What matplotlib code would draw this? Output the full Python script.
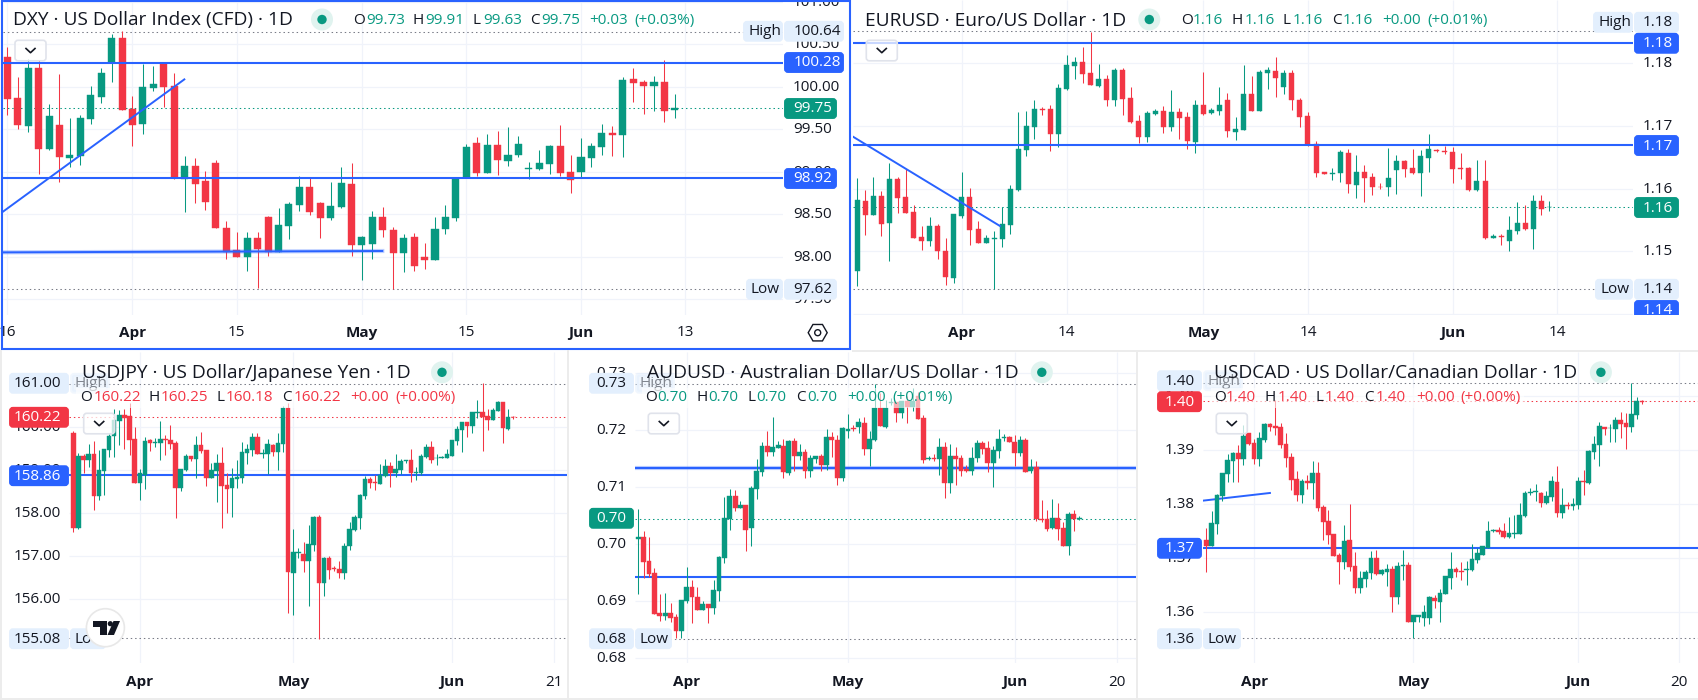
import matplotlib
matplotlib.use('Agg')
import matplotlib.pyplot as plt
from matplotlib.patches import Rectangle, FancyBboxPatch, Circle, Polygon, RegularPolygon

W, H = 1698, 700
GREEN = '#089981'
RED = '#f23645'
BLUE = '#2962ff'
TEXT = '#131722'
GRID = '#f0f3fa'
DOTS = '#787b86'
TAG_BG = '#e3effd'
EDGE = '#ececec'
LABEL_SIZE = 11
TITLE_SIZE = 13.75

# daily bars as (open, high, low, close)
dxy_bars = [
    (100.35, 100.47, 99.67, 99.85), (99.87, 100.11, 99.50, 99.55), (99.54, 100.32, 99.47, 100.22),
    (100.22, 100.31, 98.97, 99.27), (99.27, 99.80, 99.25, 99.65), (99.55, 100.15, 98.88, 99.17),
    (99.16, 99.63, 99.05, 99.20), (99.18, 99.67, 99.08, 99.63), (99.62, 100.01, 99.56, 99.90),
    (99.88, 100.22, 99.81, 100.16), (100.29, 100.62, 100.05, 100.57), (100.57, 100.65, 99.73, 99.73),
    (99.74, 99.89, 99.30, 99.55), (99.56, 100.27, 99.44, 100.00), (99.98, 100.24, 99.95, 100.03),
    (100.27, 100.29, 99.76, 100.00), (100.01, 100.16, 98.91, 98.93), (98.91, 99.18, 98.53, 99.07),
    (99.07, 99.16, 98.63, 98.85), (98.89, 99.01, 98.55, 98.64), (99.10, 99.14, 98.34, 98.34),
    (98.34, 98.42, 97.97, 98.05), (98.08, 98.29, 98.00, 98.00), (98.00, 98.29, 97.83, 98.22),
    (98.22, 98.29, 97.63, 98.09), (98.47, 98.48, 98.01, 98.05), (98.05, 98.57, 98.05, 98.37),
    (98.36, 98.64, 98.21, 98.62), (98.61, 98.95, 98.54, 98.82), (98.82, 98.93, 98.49, 98.53),
    (98.63, 98.64, 98.22, 98.45), (98.45, 98.88, 98.43, 98.60), (98.58, 99.05, 98.57, 98.87),
    (98.85, 99.10, 98.01, 98.14), (98.14, 98.24, 97.73, 98.23), (98.15, 98.54, 97.97, 98.47),
    (98.47, 98.58, 98.23, 98.31), (98.31, 98.35, 97.62, 98.04), (98.04, 98.27, 97.82, 98.22),
    (98.23, 98.28, 97.83, 97.89), (98.00, 98.16, 97.85, 97.96), (97.96, 98.47, 97.96, 98.33),
    (98.33, 98.61, 98.27, 98.47), (98.45, 98.93, 98.42, 98.93), (98.93, 99.33, 98.93, 99.29),
    (99.34, 99.41, 98.95, 98.98), (98.98, 99.44, 98.98, 99.31), (99.31, 99.48, 98.96, 99.14),
    (99.13, 99.53, 99.07, 99.20), (99.20, 99.42, 99.17, 99.33), (99.03, 99.11, 98.91, 99.04),
    (99.03, 99.25, 99.02, 99.10), (99.09, 99.31, 98.97, 99.30), (99.30, 99.55, 98.95, 98.98),
    (99.00, 99.20, 98.75, 98.90), (99.00, 99.40, 98.93, 99.17), (99.16, 99.34, 99.05, 99.30),
    (99.29, 99.56, 99.20, 99.45), (99.45, 99.54, 99.18, 99.43), (99.43, 100.11, 99.17, 100.08),
    (100.09, 100.22, 99.82, 100.04), (100.05, 100.08, 99.68, 100.01), (100.01, 100.13, 99.71, 100.05),
    (100.05, 100.31, 99.58, 99.71), (99.73, 99.91, 99.63, 99.75),
]
dxy_ticks = [101.0, 100.5, 100.0, 99.5, 99.0, 98.5, 98.0, 97.5]
dxy_days = [0, 12, 22, 34, 44, 55, 65]
dxy_day_labels = ['16', 'Apr', '15', 'May', '15', 'Jun', '13']
dxy_levels = [100.28, 98.92]
dxy_trend_x = [-0.415, 16.97]
dxy_trend_y = [98.53, 100.086]
dxy_support_x = [-0.415, 35.95]
dxy_support_y = [98.051, 98.067]

eur_bars = [
    (1.1469, 1.1617, 1.1445, 1.1582), (1.1580, 1.1598, 1.1526, 1.1558), (1.1558, 1.1619, 1.1558, 1.1588),
    (1.1588, 1.1596, 1.1525, 1.1544), (1.1545, 1.1641, 1.1485, 1.1615), (1.1615, 1.1619, 1.1561, 1.1585),
    (1.1587, 1.1631, 1.1561, 1.1561), (1.1563, 1.1574, 1.1521, 1.1521), (1.1523, 1.1541, 1.1502, 1.1517),
    (1.1517, 1.1555, 1.1509, 1.1541), (1.1541, 1.1544, 1.1488, 1.1501), (1.1501, 1.1521, 1.1447, 1.1459),
    (1.1458, 1.1560, 1.1450, 1.1560), (1.1556, 1.1627, 1.1553, 1.1587), (1.1587, 1.1601, 1.1510, 1.1534),
    (1.1536, 1.1548, 1.1513, 1.1513), (1.1513, 1.1526, 1.1513, 1.1521), (1.1520, 1.1533, 1.1440, 1.1521),
    (1.1520, 1.1571, 1.1507, 1.1544), (1.1542, 1.1606, 1.1528, 1.1599), (1.1598, 1.1722, 1.1596, 1.1663),
    (1.1662, 1.1724, 1.1652, 1.1700), (1.1698, 1.1741, 1.1679, 1.1727), (1.1727, 1.1730, 1.1717, 1.1725),
    (1.1727, 1.1733, 1.1660, 1.1687), (1.1687, 1.1767, 1.1666, 1.1760), (1.1759, 1.1813, 1.1757, 1.1797),
    (1.1795, 1.1810, 1.1775, 1.1802), (1.1802, 1.1826, 1.1768, 1.1783), (1.1784, 1.1850, 1.1765, 1.1765),
    (1.1764, 1.1799, 1.1762, 1.1775), (1.1775, 1.1781, 1.1732, 1.1741), (1.1741, 1.1792, 1.1732, 1.1789),
    (1.1789, 1.1792, 1.1717, 1.1743), (1.1744, 1.1762, 1.1705, 1.1706), (1.1708, 1.1717, 1.1673, 1.1682),
    (1.1682, 1.1724, 1.1674, 1.1721), (1.1719, 1.1727, 1.1717, 1.1724), (1.1724, 1.1732, 1.1689, 1.1698),
    (1.1698, 1.1757, 1.1692, 1.1722), (1.1722, 1.1729, 1.1679, 1.1713), (1.1714, 1.1722, 1.1663, 1.1676),
    (1.1674, 1.1741, 1.1657, 1.1733), (1.1733, 1.1786, 1.1717, 1.1719), (1.1721, 1.1729, 1.1719, 1.1725),
    (1.1724, 1.1762, 1.1717, 1.1733), (1.1741, 1.1752, 1.1682, 1.1692), (1.1690, 1.1714, 1.1678, 1.1695),
    (1.1693, 1.1797, 1.1693, 1.1751), (1.1751, 1.1779, 1.1724, 1.1724), (1.1724, 1.1789, 1.1724, 1.1786),
    (1.1784, 1.1794, 1.1759, 1.1789), (1.1787, 1.1810, 1.1746, 1.1776), (1.1762, 1.1789, 1.1751, 1.1784),
    (1.1784, 1.1789, 1.1725, 1.1741), (1.1741, 1.1744, 1.1698, 1.1714), (1.1716, 1.1722, 1.1668, 1.1670),
    (1.1671, 1.1676, 1.1619, 1.1625), (1.1626, 1.1627, 1.1623, 1.1624), (1.1623, 1.1633, 1.1614, 1.1625),
    (1.1625, 1.1662, 1.1611, 1.1658), (1.1657, 1.1663, 1.1593, 1.1607), (1.1606, 1.1654, 1.1585, 1.1627),
    (1.1627, 1.1638, 1.1579, 1.1617), (1.1619, 1.1625, 1.1590, 1.1603), (1.1603, 1.1609, 1.1599, 1.1602),
    (1.1603, 1.1665, 1.1588, 1.1617), (1.1630, 1.1654, 1.1592, 1.1644), (1.1644, 1.1646, 1.1619, 1.1631),
    (1.1633, 1.1663, 1.1623, 1.1625), (1.1625, 1.1662, 1.1588, 1.1652), (1.1649, 1.1687, 1.1627, 1.1663),
    (1.1662, 1.1663, 1.1658, 1.1660), (1.1660, 1.1668, 1.1655, 1.1658), (1.1658, 1.1666, 1.1609, 1.1631),
    (1.1633, 1.1657, 1.1615, 1.1631), (1.1633, 1.1635, 1.1596, 1.1598), (1.1598, 1.1646, 1.1596, 1.1612),
    (1.1612, 1.1646, 1.1520, 1.1521), (1.1522, 1.1528, 1.1522, 1.1524), (1.1525, 1.1528, 1.1510, 1.1523),
    (1.1517, 1.1556, 1.1501, 1.1534), (1.1533, 1.1579, 1.1528, 1.1545), (1.1545, 1.1574, 1.1534, 1.1536),
    (1.1536, 1.1590, 1.1504, 1.1580), (1.1580, 1.1590, 1.1558, 1.1568), (1.1570, 1.1580, 1.1564, 1.1571),
]
eur_ticks = [1.18, 1.17, 1.16, 1.15, 1.14]
eur_days = [13, 26, 43, 56, 74, 87]
eur_day_labels = ['Apr', '14', 'May', '14', 'Jun', '14']
eur_levels = [1.1832, 1.16696]
eur_trend_x = [-0.534, 17.73]
eur_trend_y = [1.16828, 1.15405]

jpy_bars = [
    (159.85, 159.91, 157.55, 157.64), (157.64, 159.38, 157.62, 159.32), (159.32, 159.36, 158.92, 159.22),
    (159.22, 159.60, 159.06, 159.36), (159.36, 159.67, 158.06, 158.39), (158.39, 159.46, 158.29, 158.99),
    (158.97, 159.48, 158.41, 159.48), (159.46, 159.84, 159.29, 159.78), (159.78, 160.40, 159.29, 160.16),
    (160.13, 160.39, 159.57, 160.27), (160.27, 160.41, 159.48, 160.20), (160.25, 160.55, 159.34, 159.69),
    (159.71, 159.99, 158.69, 158.69), (158.69, 159.02, 158.29, 158.92), (158.88, 159.76, 158.55, 159.67),
    (159.69, 159.71, 159.43, 159.62), (159.62, 159.74, 159.53, 159.64), (159.62, 160.13, 159.22, 159.71),
    (159.71, 159.81, 159.34, 159.69), (159.69, 160.04, 159.48, 159.60), (159.62, 159.67, 157.88, 158.57),
    (158.57, 159.02, 158.50, 159.02), (158.99, 159.36, 158.97, 159.32), (159.32, 159.32, 159.20, 159.25),
    (159.25, 159.78, 158.81, 159.57), (159.57, 159.88, 159.39, 159.43), (159.46, 159.46, 158.62, 158.81),
    (158.81, 159.16, 158.81, 158.99), (158.97, 159.36, 158.25, 159.16), (159.16, 159.53, 157.64, 158.62),
    (158.64, 158.92, 157.99, 158.55), (158.57, 159.04, 157.90, 158.81), (158.78, 159.22, 158.57, 158.83),
    (158.81, 159.64, 158.69, 159.41), (159.39, 159.60, 159.13, 159.48), (159.46, 159.85, 159.32, 159.76),
    (159.76, 159.85, 159.36, 159.36), (159.36, 159.48, 159.27, 159.39), (159.36, 159.71, 158.90, 159.60),
    (159.57, 159.60, 159.32, 159.41), (159.41, 159.85, 158.99, 159.62), (159.60, 160.48, 159.41, 160.43),
    (160.43, 160.55, 155.67, 156.62), (156.60, 157.62, 155.62, 157.09), (157.06, 157.18, 156.95, 157.09),
    (157.04, 157.32, 156.62, 156.88), (156.88, 157.71, 155.83, 157.27), (157.25, 157.92, 157.11, 157.90),
    (157.90, 157.95, 155.07, 156.36), (156.36, 156.97, 156.06, 156.95), (156.95, 156.99, 156.46, 156.67),
    (156.72, 156.76, 156.64, 156.70), (156.69, 156.88, 156.48, 156.60), (156.60, 157.29, 156.46, 157.22),
    (157.22, 157.78, 157.13, 157.62), (157.60, 157.95, 157.57, 157.90), (157.88, 158.43, 157.62, 158.41),
    (158.39, 158.85, 158.32, 158.78), (158.78, 158.83, 158.57, 158.69), (158.71, 158.88, 158.53, 158.69),
    (158.67, 159.13, 158.67, 158.88), (158.85, 159.25, 158.83, 159.09), (159.09, 159.18, 158.60, 158.92),
    (158.92, 159.36, 158.83, 159.02), (158.99, 159.25, 158.90, 159.20), (159.20, 159.22, 159.16, 159.22),
    (159.22, 159.48, 158.71, 158.92), (158.92, 159.06, 158.76, 158.95), (158.92, 159.36, 158.88, 159.32),
    (159.29, 159.60, 159.27, 159.53), (159.53, 159.67, 159.16, 159.22), (159.26, 159.36, 159.11, 159.27),
    (159.28, 159.32, 159.26, 159.29), (159.27, 159.48, 159.27, 159.36), (159.32, 159.69, 159.32, 159.69),
    (159.67, 160.02, 159.57, 159.95), (159.92, 160.11, 159.41, 160.11), (160.11, 160.11, 159.76, 160.02),
    (160.02, 160.34, 159.85, 160.34), (160.32, 160.62, 160.20, 160.34), (160.34, 161.01, 159.43, 160.22),
    (160.25, 160.41, 159.92, 160.16), (160.16, 160.43, 160.16, 160.39), (160.36, 160.60, 160.36, 160.57),
    (160.57, 160.57, 159.62, 159.97), (159.95, 160.41, 159.92, 160.22), (160.223, 160.25, 160.18, 160.219),
]
jpy_ticks = [160.0, 159.0, 158.0, 157.0, 156.0]
jpy_days = [13, 43, 74, 94]
jpy_day_labels = ['Apr', 'May', 'Jun', '21']
jpy_levels = [158.876]

aud_bars = [
    (.7008, .7061, .6912, .7012), (.7012, .7022, .6940, .6968), (.6970, .7012, .6942, .6947),
    (.6949, .6957, .6877, .6877), (.6878, .6912, .6864, .6873), (.6873, .6913, .6866, .6878),
    (.6878, .6896, .6863, .6870), (.6871, .6877, .6835, .6847), (.6847, .6901, .6835, .6901),
    (.6899, .6959, .6896, .6924), (.6924, .6936, .6861, .6906), (.6906, .6924, .6884, .6884),
    (.6884, .6899, .6884, .6894), (.6894, .6894, .6861, .6887), (.6887, .6936, .6877, .6919),
    (.6917, .6978, .6899, .6977), (.6975, .7082, .6966, .7045), (.7043, .7096, .7024, .7084),
    (.7084, .7094, .7057, .7063), (.7063, .7075, .7063, .7068), (.7068, .7068, .6987, .7024),
    (.7027, .7101, .6996, .7098), (.7096, .7149, .7078, .7127), (.7126, .7178, .7119, .7171),
    (.7171, .7198, .7154, .7161), (.7161, .7222, .7154, .7170), (.7168, .7180, .7168, .7173),
    (.7171, .7184, .7115, .7126), (.7124, .7182, .7120, .7180), (.7180, .7185, .7127, .7154),
    (.7154, .7175, .7147, .7161), (.7161, .7166, .7115, .7127), (.7127, .7156, .7117, .7150),
    (.7149, .7154, .7142, .7154), (.7154, .7157, .7127, .7138), (.7138, .7201, .7129, .7187),
    (.7187, .7196, .7152, .7182), (.7182, .7191, .7103, .7115), (.7115, .7205, .7110, .7203),
    (.7198, .7227, .7185, .7201), (.7203, .7208, .7198, .7201), (.7205, .7220, .7194, .7213),
    (.7212, .7222, .7156, .7166), (.7166, .7198, .7136, .7184), (.7182, .7281, .7180, .7238),
    (.7238, .7264, .7206, .7206), (.7205, .7252, .7203, .7238), (.7247, .7256, .7243, .7249),
    (.7249, .7249, .7213, .7229), (.7229, .7250, .7220, .7250), (.7250, .7259, .7212, .7240),
    (.7240, .7273, .7233, .7250), (.7259, .7266, .7219, .7219), (.7220, .7226, .7142, .7147),
    (.7149, .7154, .7147, .7150), (.7150, .7157, .7145, .7149), (.7149, .7185, .7120, .7170),
    (.7170, .7178, .7080, .7106), (.7106, .7175, .7089, .7154), (.7154, .7170, .7103, .7149),
    (.7150, .7156, .7119, .7127), (.7131, .7138, .7126, .7127), (.7127, .7170, .7120, .7150),
    (.7150, .7182, .7143, .7177), (.7177, .7180, .7157, .7166), (.7168, .7180, .7126, .7142),
    (.7142, .7171, .7099, .7164), (.7163, .7201, .7150, .7184), (.7185, .7192, .7180, .7187),
    (.7187, .7189, .7178, .7178), (.7178, .7191, .7136, .7159), (.7159, .7189, .7154, .7182),
    (.7182, .7185, .7126, .7126), (.7127, .7149, .7124, .7135), (.7135, .7145, .7040, .7043),
    (.7043, .7077, .7038, .7042), (.7043, .7059, .7022, .7026), (.7027, .7078, .7026, .7045),
    (.7045, .7071, .7006, .7026), (.7027, .7038, .6996, .6996), (.6996, .7056, .6980, .7052),
    (.7052, .7059, .7022, .7043), (.7044, .7049, .7042, .7045),
]
aud_ticks = [.73, .72, .71, .70, .69, .68]
aud_days = [9, 39, 70, 89]
aud_day_labels = ['Apr', 'May', 'Jun', '20']
aud_levels = [.7132, .69415]

cad_bars = [
    (1.3733, 1.3755, 1.3673, 1.3722), (1.3722, 1.3786, 1.3722, 1.3764), (1.3762, 1.3818, 1.3744, 1.3816),
    (1.3814, 1.3857, 1.3805, 1.3857), (1.3855, 1.3892, 1.3840, 1.3881), (1.3879, 1.3896, 1.3840, 1.3894),
    (1.3894, 1.3909, 1.3840, 1.3883), (1.3883, 1.3946, 1.3872, 1.3925), (1.3931, 1.3931, 1.3909, 1.3911),
    (1.3912, 1.3920, 1.3873, 1.3883), (1.3883, 1.3933, 1.3870, 1.3922), (1.3918, 1.3949, 1.3914, 1.3948),
    (1.3948, 1.3949, 1.3935, 1.3942), (1.3944, 1.3992, 1.3927, 1.3940), (1.3942, 1.3949, 1.3903, 1.3909),
    (1.3911, 1.3931, 1.3868, 1.3885), (1.3886, 1.3894, 1.3825, 1.3844), (1.3846, 1.3860, 1.3805, 1.3816),
    (1.3816, 1.3846, 1.3801, 1.3842), (1.3842, 1.3853, 1.3827, 1.3838), (1.3838, 1.3879, 1.3809, 1.3857),
    (1.3857, 1.3877, 1.3786, 1.3792), (1.3794, 1.3798, 1.3733, 1.3766), (1.3768, 1.3788, 1.3725, 1.3742),
    (1.3744, 1.3744, 1.3703, 1.3703), (1.3705, 1.3709, 1.3651, 1.3692), (1.3692, 1.3760, 1.3679, 1.3731),
    (1.3733, 1.3799, 1.3675, 1.3683), (1.3685, 1.3710, 1.3635, 1.3644), (1.3644, 1.3675, 1.3635, 1.3662),
    (1.3660, 1.3677, 1.3646, 1.3673), (1.3672, 1.3712, 1.3660, 1.3699), (1.3699, 1.3714, 1.3668, 1.3670),
    (1.3670, 1.3679, 1.3668, 1.3677), (1.3673, 1.3688, 1.3648, 1.3679), (1.3679, 1.3685, 1.3599, 1.3627),
    (1.3627, 1.3692, 1.3614, 1.3685), (1.3685, 1.3714, 1.3659, 1.3686), (1.3686, 1.3692, 1.3581, 1.3581),
    (1.3581, 1.3594, 1.3551, 1.3594), (1.3590, 1.3594, 1.3581, 1.3593), (1.3588, 1.3612, 1.3573, 1.3599),
    (1.3588, 1.3629, 1.3577, 1.3627), (1.3625, 1.3631, 1.3607, 1.3620), (1.3618, 1.3642, 1.3581, 1.3635),
    (1.3633, 1.3666, 1.3633, 1.3666), (1.3662, 1.3710, 1.3642, 1.3679), (1.3679, 1.3683, 1.3664, 1.3673),
    (1.3675, 1.3692, 1.3659, 1.3673), (1.3678, 1.3694, 1.3649, 1.3679), (1.3677, 1.3725, 1.3675, 1.3697),
    (1.3696, 1.3718, 1.3690, 1.3709), (1.3705, 1.3722, 1.3705, 1.3722), (1.3718, 1.3768, 1.3718, 1.3749),
    (1.3749, 1.3753, 1.3748, 1.3751), (1.3751, 1.3757, 1.3744, 1.3748), (1.3749, 1.3764, 1.3736, 1.3738),
    (1.3738, 1.3775, 1.3736, 1.3746), (1.3744, 1.3779, 1.3736, 1.3746), (1.3744, 1.3801, 1.3744, 1.3779),
    (1.3777, 1.3823, 1.3775, 1.3820), (1.3820, 1.3829, 1.3816, 1.3822), (1.3822, 1.3836, 1.3805, 1.3823),
    (1.3820, 1.3822, 1.3794, 1.3801), (1.3801, 1.3823, 1.3799, 1.3814), (1.3812, 1.3851, 1.3805, 1.3842),
    (1.3840, 1.3870, 1.3775, 1.3783), (1.3783, 1.3829, 1.3773, 1.3798), (1.3798, 1.3803, 1.3790, 1.3796),
    (1.3796, 1.3810, 1.3788, 1.3799), (1.3798, 1.3849, 1.3790, 1.3842), (1.3842, 1.3862, 1.3816, 1.3840),
    (1.3838, 1.3899, 1.3836, 1.3898), (1.3896, 1.3925, 1.3883, 1.3911), (1.3909, 1.3951, 1.3870, 1.3944),
    (1.3942, 1.3942, 1.3927, 1.3938), (1.3940, 1.3947, 1.3915, 1.3941), (1.3938, 1.3961, 1.3915, 1.3955),
    (1.3955, 1.3970, 1.3921, 1.3948), (1.3949, 1.3967, 1.3901, 1.3942), (1.3942, 1.4023, 1.3933, 1.3966),
    (1.3964, 1.3998, 1.3957, 1.3990), (1.3990, 1.3992, 1.3984, 1.3988),
]
cad_ticks = [1.40, 1.39, 1.38, 1.37, 1.36]
cad_days = [9, 39, 70, 89]
cad_day_labels = ['Apr', 'May', 'Jun', '20']
cad_levels = [1.37185]
cad_trend_x = [-0.62, 11.98]
cad_trend_y = [1.38056, 1.38198]

plt.rcParams['font.family'] = ['Open Sans', 'DejaVu Sans']
fig = plt.figure(figsize=(W / 100, H / 100), dpi=100, facecolor='white')

# everything that is not a candle sits on a pixel-coordinate layer above the charts
top = fig.add_axes([0, 0, 1, 1], zorder=10)
top.set_xlim(0, W)
top.set_ylim(H, 0)
top.axis('off')
top.patch.set_visible(False)


def chart(box, bars, xlim, ylim, body, ticks, days, levels, line_z):
    left, up, right, down = box
    ax = fig.add_axes([left / W, 1 - down / H, (right - left) / W, (down - up) / H])
    ax.set_xlim(*xlim)
    ax.set_ylim(*ylim)
    ax.set_xticks([])
    ax.set_yticks([])
    for s in ax.spines.values():
        s.set_visible(False)
    ax.vlines(days, *ylim, color=GRID, lw=0.9, zorder=1)
    ax.hlines(ticks, *xlim, color=GRID, lw=0.9, zorder=1)
    opens, highs, lows, closes = zip(*bars)
    idx = range(len(bars))
    colors = [RED if c < o else GREEN for o, c in zip(opens, closes)]
    ax.vlines(idx, lows, highs, color=colors, lw=0.75, zorder=3)
    ax.bar(idx, [abs(c - o) for o, c in zip(opens, closes)], bottom=[min(o, c) for o, c in zip(opens, closes)],
           width=body, color=colors, edgecolor=colors, lw=0.3, zorder=3)
    ax.hlines(levels, *xlim, color=BLUE, lw=1.5, zorder=line_z)
    return ax


def dotted(ax, price, color):
    ax.axhline(price, color=color, lw=0.75, linestyle=(0, (1.4, 2.8)), zorder=2)


def py(ax, price):
    return H - ax.transData.transform((0, price))[1]


def px(ax, day):
    return ax.transData.transform((day, 0))[0]


def clip_to(artist, rect):
    if rect is not None:
        artist.set_clip_path(Rectangle(rect[:2], rect[2], rect[3], transform=top.transData))


def tag(x0, x1, y, text, bg, fg, tx, z=4, clip=None, alpha=1.0):
    p = FancyBboxPatch((x0 + 2, y - 8.5), x1 - x0 - 4, 17, boxstyle='round,pad=0,rounding_size=2', mutation_aspect=1,
                       fc=bg, ec=bg, lw=2.8, zorder=z, alpha=alpha)
    top.add_patch(p)
    clip_to(p, clip)
    t = top.text(tx, y + 0.5, text, color=fg, fontsize=LABEL_SIZE, va='center', ha='left', zorder=z + 0.1, alpha=alpha)
    clip_to(t, clip)


def axis_prices(ax, ticks, tx):
    for p in ticks:
        top.text(tx, py(ax, p) + 0.5, f'{p:.2f}', color=TEXT, fontsize=LABEL_SIZE, va='center', ha='left', zorder=3)


def axis_days(ax, days, labels, y, clip=None):
    for d, s in zip(days, labels):
        weight = 'bold' if s.isalpha() else 'normal'
        t = top.text(px(ax, d), y, s, color=TEXT, fontsize=LABEL_SIZE, va='center', ha='center', fontweight=weight, zorder=3)
        clip_to(t, clip)


def header(title, tx, y, dot_x, xs, parts, ly, color, z=6):
    top.text(tx, y, title, color=TEXT, fontsize=TITLE_SIZE, va='center', ha='left', zorder=z)
    top.add_patch(Circle((dot_x, y - 1), 11, fc='#e0f3ef', ec='none', zorder=z))
    top.add_patch(Circle((dot_x, y - 1), 4.7, fc=GREEN, ec='none', zorder=z))
    for x, s in zip(xs, parts):
        c = TEXT if s in 'OHLC' else color
        top.text(x, ly, s, color=c, fontsize=LABEL_SIZE, va='center', ha='left', zorder=z)


def button(x0, y0):
    top.add_patch(FancyBboxPatch((x0 + 2, y0 + 2), 31, 20.5, boxstyle='round,pad=0,rounding_size=3',
                                 fc=(1, 1, 1, 0.75), ec='#e0e3eb', lw=1.2, zorder=5))
    cx, cy = x0 + 17.5, y0 + 12.2
    top.plot([cx - 4.5, cx, cx + 4.5], [cy - 2, cy + 2.2, cy - 2], color=TEXT, lw=1.2, zorder=5.1)


def veil(x0, x1):
    # the OHLC row fades whatever is drawn behind it
    top.add_patch(Rectangle((x0, 388), x1 - x0, 20, fc=(1, 1, 1, 0.6), ec='none', zorder=4.5))


# DXY
ax = chart((3, 0, 783, 315), dxy_bars, (-0.415, 74.37), (97.314, 101.02), 0.68, dxy_ticks, dxy_days, dxy_levels, 4)
ax.plot(dxy_trend_x, dxy_trend_y, color=BLUE, lw=1.4, zorder=4)
ax.plot(dxy_support_x, dxy_support_y, color=BLUE, lw=3, alpha=0.3, zorder=4)
ax.plot(dxy_support_x, dxy_support_y, color=BLUE, lw=1.4, zorder=4)
dotted(ax, 100.64, DOTS)
dotted(ax, 99.75, GREEN)
dotted(ax, 97.62, DOTS)
axis_prices(ax, dxy_ticks, 793)
axis_days(ax, dxy_days, dxy_day_labels, 333, clip=(4, 320, 800, 28))
tag(743, 783, 31.3, 'High', TAG_BG, TEXT, 749)
tag(784, 844, 31.3, '100.64', TAG_BG, TEXT, 794)
tag(784, 844, 62.5, '100.28', BLUE, 'white', 794)
tag(784, 837, 108.5, '99.75', GREEN, 'white', 793)
tag(784, 837, 178.5, '98.92', BLUE, 'white', 793)
tag(746, 783, 289.3, 'Low', TAG_BG, TEXT, 751)
tag(784, 837, 289.3, '97.62', TAG_BG, TEXT, 793)
header('DXY · US Dollar Index (CFD) · 1D', 13, 20.5, 322, [353, 366, 413, 425, 473, 483, 530, 541, 589, 634],
       ['O', '99.73', 'H', '99.91', 'L', '99.63', 'C', '99.75', '+0.03', '(+0.03%)'], 20.5, GREEN)
button(13, 38.3)
top.add_patch(RegularPolygon((817.7, 332.7), 6, radius=9.5, orientation=0.5236, fc='none', ec=TEXT, lw=1.0, zorder=5))
top.add_patch(Circle((817.7, 332.7), 3, fc='none', ec=TEXT, lw=1.0, zorder=5))
top.add_patch(Rectangle((2.5, 0.8), 848, 348, fc='none', ec=BLUE, lw=1.5, zorder=7))

# EURUSD
ax = chart((853, 0, 1633, 315), eur_bars, (-0.534, 96.39), (1.13987, 1.19006), 0.62, eur_ticks, eur_days, eur_levels, 4)
ax.plot(eur_trend_x, eur_trend_y, color=BLUE, lw=1.4, zorder=4)
dotted(ax, 1.18507, DOTS)
dotted(ax, 1.15703, GREEN)
dotted(ax, 1.14396, DOTS)
axis_prices(ax, eur_ticks[:-1], 1643)
axis_days(ax, eur_days, eur_day_labels, 333)
tag(1593, 1633, 22.3, 'High', TAG_BG, TEXT, 1599)
tag(1634, 1679, 22.3, '1.18', TAG_BG, TEXT, 1643)
tag(1634, 1679, 43.3, '1.18', BLUE, 'white', 1643)
tag(1634, 1679, 145.5, '1.17', BLUE, 'white', 1643)
tag(1634, 1679, 207.5, '1.16', GREEN, 'white', 1643)
tag(1595, 1633, 289.3, 'Low', TAG_BG, TEXT, 1601)
tag(1634, 1679, 289.3, '1.14', TAG_BG, TEXT, 1643)
tag(1634, 1679, 310.5, '1.14', BLUE, 'white', 1643, clip=(1630, 295, 60, 20))
header('EURUSD · Euro/US Dollar · 1D', 865, 20.5, 1149.3, [1181, 1193, 1232, 1245, 1283, 1293, 1332, 1343, 1382, 1427],
       ['O', '1.16', 'H', '1.16', 'L', '1.16', 'C', '1.16', '+0.00', '(+0.01%)'], 20.5, GREEN)
button(864.3, 38.3)

# USDJPY
ax = chart((69, 352, 568, 663), jpy_bars, (-0.84, 96.7), (154.504, 161.736), 0.88, jpy_ticks, jpy_days, jpy_levels, 2)
dotted(ax, 161.0, DOTS)
dotted(ax, 160.22, RED)
dotted(ax, 155.08, DOTS)
axis_prices(ax, jpy_ticks, 14)
axis_days(ax, jpy_days, jpy_day_labels, 682.3)
tag(9, 69, 383.3, '161.00', TAG_BG, TEXT, 14)
tag(70, 110, 383.3, 'High', TAG_BG, TEXT, 75, alpha=0.5)
tag(9, 69, 417.3, '160.22', RED, 'white', 14)
tag(9, 69, 475.7, '158.86', BLUE, 'white', 14)
tag(9, 69, 638.7, '155.08', TAG_BG, TEXT, 14)
tag(70, 106, 638.7, 'Low', TAG_BG, TEXT, 75)
veil(76, 460)
header('USDJPY · US Dollar/Japanese Yen · 1D', 81.8, 373.3, 442,
       [80.5, 94, 149, 161, 216.6, 226, 282.4, 293.7, 349.7, 395.5],
       ['O', '160.22', 'H', '160.25', 'L', '160.18', 'C', '160.22', '+0.00', '(+0.00%)'], 397.7, RED)
button(81.7, 411.3)
# TradingView badge
top.add_patch(Circle((105.4, 627.7), 19, fc='white', ec='#e8e8e8', lw=1.2, zorder=7))
top.add_patch(Polygon([(93, 621), (107, 621), (107, 635), (100, 635), (100, 627), (93, 627)], fc=TEXT, ec='none', zorder=7.1))
top.add_patch(Circle((110.3, 623.7), 2.6, fc=TEXT, ec='none', zorder=7.1))
top.add_patch(Polygon([(113.5, 621), (120, 621), (114, 635), (107.5, 635)], fc=TEXT, ec='none', zorder=7.1))

# AUDUSD
ax = chart((635, 352, 1136, 663), aud_bars, (-0.61, 92.55), (.67906, .73363), 0.9, aud_ticks, aud_days, aud_levels, 2)
ax.hlines(aud_levels[0], *ax.get_xlim(), color=BLUE, lw=3, alpha=0.3, zorder=2)
dotted(ax, .7281, DOTS)
dotted(ax, .7044, GREEN)
dotted(ax, .6833, DOTS)
axis_prices(ax, aud_ticks, 596)
axis_days(ax, aud_days, aud_day_labels, 682.3)
tag(589, 634, 383.3, '0.73', TAG_BG, TEXT, 596)
tag(635, 675, 383.3, 'High', TAG_BG, TEXT, 640, alpha=0.5)
tag(589, 634, 518.3, '0.70', GREEN, 'white', 596)
tag(589, 634, 638.7, '0.68', TAG_BG, TEXT, 596)
tag(635, 672, 638.7, 'Low', TAG_BG, TEXT, 640)
veil(642, 955)
header('AUDUSD · Australian Dollar/US Dollar · 1D', 647, 373.3, 1041.8,
       [645, 657.3, 696.7, 708.3, 747.7, 756.7, 796, 807, 847, 892.4],
       ['O', '0.70', 'H', '0.70', 'L', '0.70', 'C', '0.70', '+0.00', '(+0.01%)'], 397.7, GREEN)
button(646.3, 411.3)

# USDCAD
ax = chart((1203, 352, 1698, 663), cad_bars, (-0.62, 92.55), (1.35049, 1.40809), 0.88, cad_ticks, cad_days, cad_levels, 2)
ax.plot(cad_trend_x, cad_trend_y, color=BLUE, lw=1.4, zorder=2)
dotted(ax, 1.40228, DOTS)
dotted(ax, 1.39895, RED)
dotted(ax, 1.35506, DOTS)
axis_prices(ax, cad_ticks, 1164.4)
axis_days(ax, cad_days, cad_day_labels, 682.3)
tag(1157, 1202, 380.7, '1.40', TAG_BG, TEXT, 1164.4)
tag(1203, 1243, 380.7, 'High', TAG_BG, TEXT, 1208, alpha=0.5)
tag(1157, 1202, 401.7, '1.40', RED, 'white', 1164.4)
tag(1157, 1202, 548.3, '1.37', BLUE, 'white', 1164.4)
tag(1157, 1202, 638.7, '1.36', TAG_BG, TEXT, 1164.4)
tag(1203, 1241, 638.7, 'Low', TAG_BG, TEXT, 1208)
veil(1211, 1524)
header('USDCAD · US Dollar/Canadian Dollar · 1D', 1214.4, 373.3, 1600.9,
       [1214, 1226, 1265, 1277.3, 1316, 1325, 1364.3, 1375.7, 1415.7, 1460],
       ['O', '1.40', 'H', '1.40', 'L', '1.40', 'C', '1.40', '+0.00', '(+0.00%)'], 397.7, RED)
button(1214.3, 411.3)

# pane separators
for rect in [(852, 350, 846, 2), (0, 350, 2, 350), (0, 698, W, 2), (567, 350, 2, 350), (1136, 350, 2, 350)]:
    top.add_patch(Rectangle(rect[:2], rect[2], rect[3], fc=EDGE, ec='none', zorder=8))

fig.savefig('out.png', dpi=100)
